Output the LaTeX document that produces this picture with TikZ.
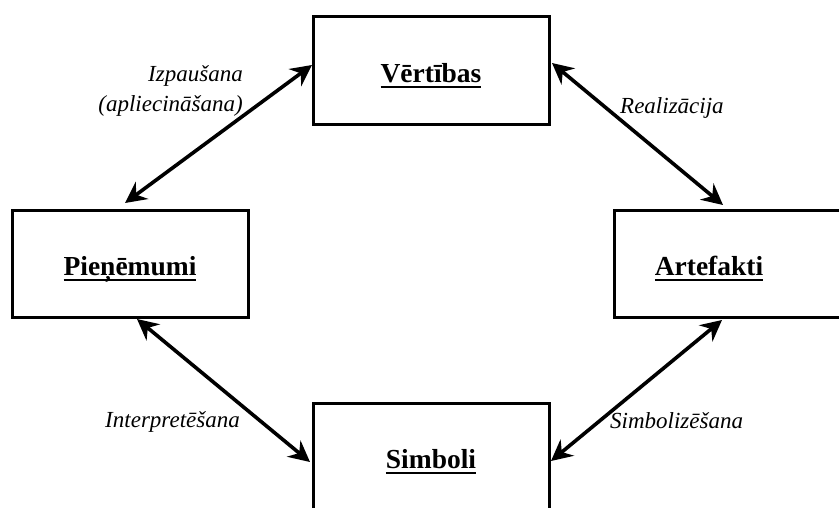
\documentclass[tikz,border=0pt]{standalone}
\usepackage{fontspec}
\setmainfont{Liberation Serif}
\usetikzlibrary{arrows.meta,calc}

% bold title with a heavy underline spanning its width
\newcommand{\boxtitle}[1]{\setbox0\hbox{#1}\rlap{\rule[-5.8pt]{\wd0}{2.2pt}}\box0}

\begin{document}
\begin{tikzpicture}[x=1pt,y=-1pt,
  box/.style={draw, line width=3pt, minimum width=236pt, inner sep=0pt, outer sep=0pt},
  title/.style={anchor=base, inner sep=0pt, font=\fontsize{27.5}{32}\selectfont\bfseries},
  lbl/.style={inner sep=0pt, font=\fontsize{23}{30}\selectfont\itshape},
  tipx/.tip={Stealth[length=21pt,width=21pt,inset=7pt]},
  link/.style={line width=3.6pt, tipx-tipx}]

\useasboundingbox (0,0) rectangle (839,507);
\clip (0,0) rectangle (839,507);

% the four boxes
\node[box, minimum height=108pt] (vert) at (431,70) {};
\node[box, minimum height=107pt] (pien) at (130,263.5) {};
\node[box, minimum height=107pt] (arte) at (732,263.5) {};
\node[box, minimum height=108pt] (simb) at (431,457) {};

% box titles
\node[title] (tv) at (431,82) {\boxtitle{Vērtības}};
\node[title] (tp) at (130,275) {\boxtitle{Pieņēmumi}};
\node[title] (ta) at (709,275) {\boxtitle{Artefakti}};
\node[title] (ts) at (431,468) {\boxtitle{Simboli}};

% two-way relations
\draw[link] ($(vert.west)+(-1,-5)$) -- ($(pien.north)+(-5,-7)$);
\draw[link] ($(vert.east)+(3,-7)$) -- ($(arte.north west)+(109,-5)$);
\draw[link] ($(pien.south)+(7,2)$) -- ($(simb.west)+(-3,5)$);
\draw[link] ($(arte.south west)+(108,3)$) -- ($(simb.east)+(2,4)$);

% relation labels
\node[lbl, anchor=east, align=right] (izp) at (243,91) {Izpaušana\\(apliecināšana)};
\node[lbl, anchor=base west] (rea) at (620,113) {Realizācija};
\node[lbl, anchor=base east] (int) at (240,427) {Interpretēšana};
\node[lbl, anchor=base west] (sym) at (610,428) {Simbolizēšana};
\end{tikzpicture}
\end{document}
